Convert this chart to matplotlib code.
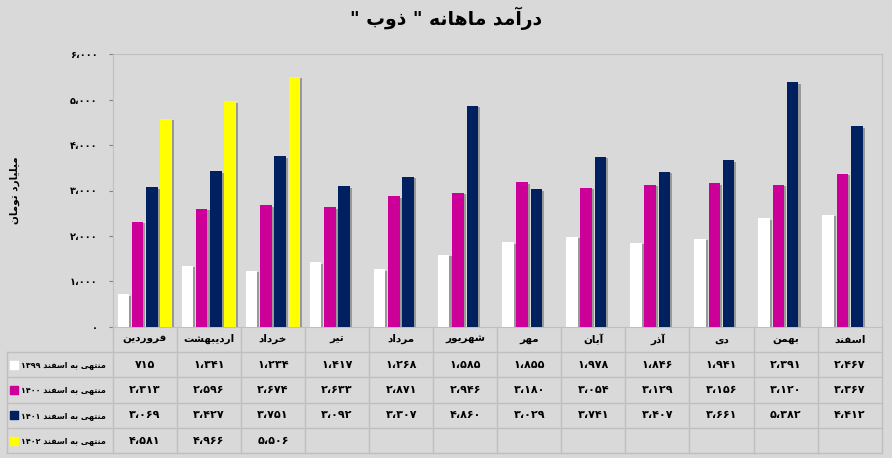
import numpy as np
import matplotlib.pyplot as plt
from matplotlib import patheffects as pe
from matplotlib.ticker import FuncFormatter

# داده‌ها
months = ['فروردین', 'اردیبهشت', 'خرداد', 'تیر', 'مرداد', 'شهریور',
          'مهر', 'آبان', 'آذر', 'دی', 'بهمن', 'اسفند']
years = ['۱۳۹۹', '۱۴۰۰', '۱۴۰۱', '۱۴۰۲']
v1399 = [715, 1341, 1234, 1417, 1268, 1585, 1855, 1978, 1846, 1941, 2391, 2467]
v1400 = [2313, 2596, 2674, 2633, 2871, 2946, 3180, 3054, 3129, 3156, 3120, 3367]
v1401 = [3069, 3427, 3751, 3092, 3307, 4860, 3029, 3741, 3407, 3661, 5382, 4412]
v1402 = [4581, 4966, 5506, None, None, None, None, None, None, None, None, None]
colors = ['#FFFFFF', '#CC0099', '#002060', '#FFFF00']

# شکل‌دهی حروف فارسی (matplotlib خودش انجام نمی‌دهد)
FORMS = {
    'ا': ('\uFE8D', '\uFE8E', None, None),
    'آ': ('\uFE81', '\uFE82', None, None),
    'ب': ('\uFE8F', '\uFE90', '\uFE91', '\uFE92'),
    'ت': ('\uFE95', '\uFE96', '\uFE97', '\uFE98'),
    'خ': ('\uFEA5', '\uFEA6', '\uFEA7', '\uFEA8'),
    'د': ('\uFEA9', '\uFEAA', None, None),
    'ذ': ('\uFEAB', '\uFEAC', None, None),
    'ر': ('\uFEAD', '\uFEAE', None, None),
    'س': ('\uFEB1', '\uFEB2', '\uFEB3', '\uFEB4'),
    'ش': ('\uFEB5', '\uFEB6', '\uFEB7', '\uFEB8'),
    'ف': ('\uFED1', '\uFED2', '\uFED3', '\uFED4'),
    'ل': ('\uFEDD', '\uFEDE', '\uFEDF', '\uFEE0'),
    'م': ('\uFEE1', '\uFEE2', '\uFEE3', '\uFEE4'),
    'ن': ('\uFEE5', '\uFEE6', '\uFEE7', '\uFEE8'),
    'ه': ('\uFEE9', '\uFEEA', '\uFEEB', '\uFEEC'),
    'و': ('\uFEED', '\uFEEE', None, None),
    '\u06CC': ('\uFBFC', '\uFBFD', '\uFBFE', '\uFBFF'),
}


def shape(word):
    word = word.replace('\u064A', '\u06CC')
    out = []
    for i, c in enumerate(word):
        f = FORMS.get(c)
        if f is None:
            out.append(c)
            continue
        prev = word[i - 1] if i > 0 else None
        nxt = word[i + 1] if i < len(word) - 1 else None
        jp = prev in FORMS and FORMS[prev][2] is not None
        jn = f[2] is not None and nxt in FORMS
        if jp and jn:
            out.append(f[3])
        elif jp:
            out.append(f[1])
        elif jn:
            out.append(f[2])
        else:
            out.append(f[0])
    return ''.join(out)


def rtl(text):
    vis = []
    for w in reversed(text.split(' ')):
        w2 = w.replace('\u064A', '\u06CC')
        if any(c in FORMS for c in w2):
            vis.append(shape(w2)[::-1])
        else:
            vis.append(w2)
    return ' '.join(vis)


def fa(n):
    s = format(int(n), ',')
    return s.translate(str.maketrans('0123456789,', '۰۱۲۳۴۵۶۷۸۹،'))


plt.rcParams['font.family'] = ['DejaVu Sans']
plt.rcParams['font.weight'] = 'bold'

W, H = 892, 458
bg = '#D9D9D9'
grid = '#BFBFBF'
fig = plt.figure(figsize=(W / 100, H / 100), dpi=100, facecolor=bg)

left, right = 112.7, 881.7
top, bottom = 54.3, 326.7
ax = fig.add_axes([left / W, (H - bottom) / H, (right - left) / W, (bottom - top) / H])
ax.set_facecolor(bg)

series = [v1399, v1400, v1401, v1402]
x = np.arange(len(months)) + 0.5
step, bw = 0.223, 0.18
shadow = [pe.SimplePatchShadow(offset=(1.5, -1), shadow_rgbFace='#6F6F6F', alpha=0.6), pe.Normal()]
for k, vals in enumerate(series):
    v = np.array([np.nan if a is None else a for a in vals], dtype=float)
    ax.bar(x + (k - 1.5) * step, v, width=bw, color=colors[k], zorder=3,
           path_effects=shadow)

ax.set_xlim(0, 12)
ax.set_ylim(0, 6000)
ax.set_xticks([])
ax.set_yticks(range(0, 6001, 1000))
ax.yaxis.set_major_formatter(FuncFormatter(lambda v, p: fa(v)))
ax.tick_params(axis='y', labelsize=7, length=3, color='#808080', pad=8)
for s in ax.spines.values():
    s.set_color(grid)

fig.text(446 / W, 1 - 18 / H, rtl('درآمد ماهانه " ذوب "'), ha='center', va='center',
         fontsize=13.5, fontweight='bold')
fig.text(15 / W, 1 - 190 / H, rtl('میلیارد تومان'), ha='center', va='center',
         rotation=90, fontsize=7.5, fontweight='bold')

# جدول داده‌ها
tb_bottom = 453.3
tax = fig.add_axes([left / W, (H - tb_bottom) / H, (right - left) / W, (tb_bottom - bottom) / H])
tax.set_xlim(0, 12)
tax.set_ylim(5, 0)
tax.axis('off')
lab_x = -(left - 6.7) / ((right - left) / 12)

for i in range(13):
    tax.plot([i, i], [0, 5], color=grid, lw=1, clip_on=False)
tax.plot([lab_x, lab_x], [1, 5], color=grid, lw=1, clip_on=False)
for r in range(1, 6):
    tax.plot([lab_x, 12], [r, r], color=grid, lw=1, clip_on=False)

for i, m in enumerate(months):
    tax.text(i + 0.5, 0.5, rtl(m), ha='center', va='center', fontsize=7.5, fontweight='bold')

for k, vals in enumerate(series):
    y = k + 1.5
    tax.scatter([lab_x + 0.12], [y], marker='s', s=30, color=colors[k], clip_on=False, zorder=3)
    tax.text(lab_x + 0.22, y, rtl('منتهی به اسفند ' + years[k]), ha='left', va='center',
             fontsize=5.8, fontweight='bold')
    for i, a in enumerate(vals):
        if a is not None:
            tax.text(i + 0.5, y, fa(a), ha='center', va='center', fontsize=8, fontweight='bold')

fig.savefig('out.png', dpi=100, facecolor=bg)
